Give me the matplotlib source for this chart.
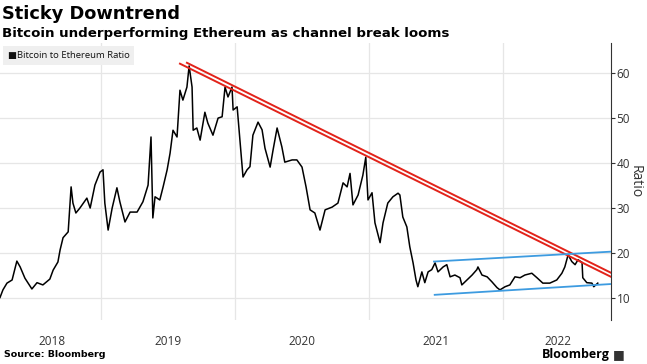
import matplotlib
matplotlib.use("Agg")
import matplotlib.pyplot as plt
import pandas as pd

# Bitcoin / Ethereum ratio
dates = [
    "2018-03-31", "2018-04-08", "2018-04-19", "2018-05-03", "2018-05-16", "2018-05-25",
    "2018-06-07", "2018-06-26", "2018-07-10", "2018-07-26", "2018-08-14", "2018-08-23",
    "2018-09-05", "2018-09-11", "2018-09-19", "2018-10-03", "2018-10-11", "2018-10-16",
    "2018-10-24", "2018-11-04", "2018-11-23", "2018-12-02", "2018-12-15", "2018-12-29",
    "2019-01-06", "2019-01-11", "2019-01-20", "2019-01-31", "2019-02-13", "2019-02-21",
    "2019-03-07", "2019-03-21", "2019-04-09", "2019-04-25", "2019-05-09", "2019-05-17",
    "2019-05-22", "2019-05-28", "2019-06-10", "2019-06-19", "2019-06-30", "2019-07-08",
    "2019-07-16", "2019-07-27", "2019-08-04", "2019-08-12", "2019-08-23", "2019-08-29",
    "2019-09-06", "2019-09-09", "2019-09-19", "2019-09-28", "2019-10-11", "2019-10-19",
    "2019-11-02", "2019-11-16", "2019-11-27", "2019-12-05", "2019-12-13", "2019-12-24",
    "2019-12-27", "2020-01-07", "2020-01-15", "2020-01-23", "2020-02-03", "2020-02-11",
    "2020-02-19", "2020-03-04", "2020-03-15", "2020-03-23", "2020-04-06", "2020-04-14",
    "2020-04-25", "2020-05-08", "2020-05-16", "2020-06-05", "2020-06-18", "2020-07-02",
    "2020-07-13", "2020-07-24", "2020-08-06", "2020-08-20", "2020-09-03", "2020-09-22",
    "2020-10-08", "2020-10-22", "2020-11-02", "2020-11-10", "2020-11-18", "2020-12-02",
    "2020-12-15", "2020-12-23", "2020-12-29", "2021-01-09", "2021-01-17", "2021-01-31",
    "2021-02-08", "2021-02-21", "2021-03-07", "2021-03-21", "2021-03-26", "2021-04-03",
    "2021-04-14", "2021-04-22", "2021-05-01", "2021-05-09", "2021-05-14", "2021-05-25",
    "2021-06-02", "2021-06-11", "2021-06-21", "2021-06-30", "2021-07-08", "2021-07-22",
    "2021-08-01", "2021-08-10", "2021-08-23", "2021-09-06", "2021-09-11", "2021-09-25",
    "2021-10-09", "2021-10-22", "2021-10-25", "2021-11-05", "2021-11-19", "2021-12-02",
    "2021-12-16", "2021-12-24", "2022-01-07", "2022-01-20", "2022-02-03", "2022-02-17",
    "2022-03-02", "2022-03-21", "2022-04-04", "2022-04-20", "2022-05-09", "2022-05-28",
    "2022-06-11", "2022-06-19", "2022-06-28", "2022-07-08", "2022-07-17", "2022-07-25",
    "2022-08-05", "2022-08-07", "2022-08-18", "2022-09-01", "2022-09-06", "2022-09-17",
]
ratio = [
    10.0, 11.7, 13.2, 13.9, 18.1, 16.8,
    14.3, 11.9, 13.3, 12.8, 14.1, 16.1,
    17.9, 20.6, 23.3, 24.6, 34.6, 31.0,
    28.8, 29.9, 32.1, 29.9, 35.0, 37.9,
    38.4, 31.0, 25.0, 29.9, 34.4, 31.3,
    26.8, 29.0, 29.0, 31.3, 35.0, 45.7,
    27.7, 32.4, 31.7, 34.6, 38.4, 42.1,
    47.2, 45.7, 56.1, 53.9, 56.8, 61.5,
    56.8, 47.2, 47.7, 45.0, 51.2, 48.8,
    46.1, 49.9, 50.2, 56.8, 54.6, 56.8,
    51.7, 52.4, 44.6, 36.8, 38.4, 39.1,
    46.1, 49.0, 47.3, 43.2, 39.0, 42.8,
    47.7, 43.5, 40.1, 40.6, 40.6, 39.0,
    34.6, 29.5, 28.8, 25.0, 29.5, 30.1,
    31.0, 35.5, 34.6, 37.6, 30.6, 32.8,
    37.2, 41.2, 31.7, 33.3, 26.6, 22.2,
    26.6, 31.0, 32.4, 33.2, 32.8, 27.9,
    25.7, 21.3, 17.7, 13.9, 12.4, 15.7,
    13.3, 15.7, 16.2, 17.7, 15.7, 16.8,
    17.3, 14.6, 15.0, 14.4, 12.8, 13.9,
    15.0, 16.2, 16.8, 15.0, 14.6, 13.5,
    12.2, 11.7, 12.4, 12.8, 14.6, 14.4,
    15.0, 15.4, 14.4, 13.2, 13.2, 13.9,
    15.4, 16.8, 19.5, 18.0, 17.3, 18.4,
    17.8, 14.4, 13.3, 13.2, 12.4, 13.2,
]

# trend lines drawn on the chart (start, end)
red_upper_dates = ["2019-08-23", "2022-10-23"]
red_upper_vals = [62.2, 15.5]
red_lower_dates = ["2019-08-04", "2022-10-23"]
red_lower_vals = [62.0, 14.6]
blue_upper_dates = ["2021-06-27", "2022-10-23"]
blue_upper_vals = [18.0, 20.2]
blue_lower_dates = ["2021-06-29", "2022-10-23"]
blue_lower_vals = [10.6, 13.0]

years = ["2018", "2019", "2020", "2021", "2022"]
year_label_dates = ["2018-08-20", "2019-07-02", "2020-07-02", "2021-07-02", "2022-05-30"]
year_starts = ["2019-01-01", "2020-01-01", "2021-01-01", "2022-01-01"]
y_ticks = [10, 20, 30, 40, 50, 60]

x = pd.to_datetime(dates)
fonts = ["Open Sans", "DejaVu Sans"]

fig = plt.figure(figsize=(6.47, 3.64), dpi=100)
ax = fig.add_axes([0, 44 / 364, 611 / 647, 277 / 364])

grid_c = "#e6e6e6"
for d in year_starts:
    ax.axvline(pd.Timestamp(d), color=grid_c, lw=0.9, zorder=0)
ax.set_yticks(y_ticks)
ax.grid(axis="y", color=grid_c, lw=0.9, zorder=0)

ax.plot(x, ratio, color="black", lw=1.1, zorder=3)
ax.plot(pd.to_datetime(red_upper_dates), red_upper_vals, color="#e2231a", lw=1.4, zorder=4)
ax.plot(pd.to_datetime(red_lower_dates), red_lower_vals, color="#e2231a", lw=1.4, zorder=4)
ax.plot(pd.to_datetime(blue_upper_dates), blue_upper_vals, color="#3d9be0", lw=1.3, zorder=4)
ax.plot(pd.to_datetime(blue_lower_dates), blue_lower_vals, color="#3d9be0", lw=1.3, zorder=4)

ax.set_xlim(pd.Timestamp("2018-03-31"), pd.Timestamp("2022-10-23"))
ax.set_ylim(5, 66.6)

for s in ["left", "top", "bottom"]:
    ax.spines[s].set_visible(False)
ax.spines["right"].set_color("#333333")
ax.spines["right"].set_linewidth(0.8)

ax.yaxis.tick_right()
ax.tick_params(axis="y", direction="out", length=3, width=0.8, colors="#333333",
               labelsize=8.5, pad=1)
ax.set_xticks(pd.to_datetime(year_label_dates))
ax.set_xticklabels(years)
ax.tick_params(axis="x", length=0, labelsize=8.5, colors="#333333", pad=11)
for lab in ax.get_xticklabels() + ax.get_yticklabels():
    lab.set_fontfamily(fonts)

ax.yaxis.set_label_position("right")
ax.set_ylabel("Ratio", rotation=270, fontsize=10, color="#333333",
              fontfamily=fonts, labelpad=9)

# header
fig.text(0.003, 0.962, "Sticky Downtrend", fontsize=12.8, fontweight="bold",
         fontfamily="DejaVu Sans", va="center", ha="left")
fig.text(0.003, 0.909, "Bitcoin underperforming Ethereum as channel break looms",
         fontsize=9.6, fontweight="bold", fontfamily="DejaVu Sans", va="center", ha="left")

# legend box
fig.text(0.012, 0.848, "\u25a0Bitcoin to Ethereum Ratio", fontsize=6.8, fontfamily=fonts,
         va="center", ha="left", color="#111111",
         bbox=dict(boxstyle="square,pad=0.5", fc="#efefef", ec="none"))

# footer
fig.text(0.006, 0.026, "Source: Bloomberg", fontsize=6.8, fontweight="bold",
         fontfamily="DejaVu Sans", va="center", ha="left")
fig.text(0.942, 0.026, "Bloomberg", fontsize=9, fontweight="bold",
         fontfamily=fonts, va="center", ha="right")
fig.text(0.948, 0.026, "\u25a0", fontsize=9, fontfamily="DejaVu Sans",
         va="center", ha="left", color="#333333")

fig.savefig("out.png", dpi=100)
